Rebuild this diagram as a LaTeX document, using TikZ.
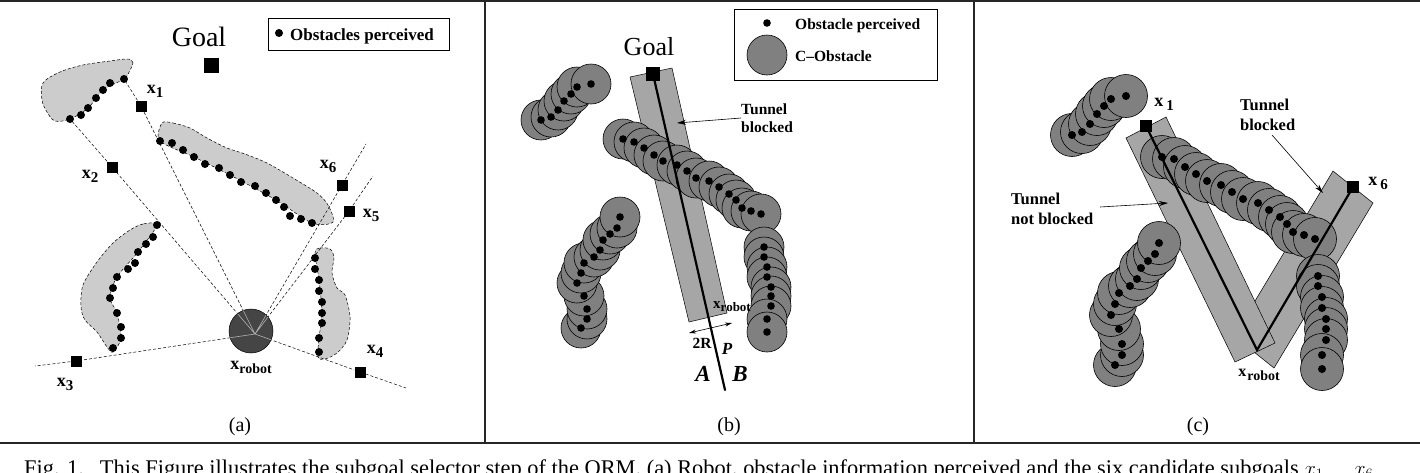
\documentclass[tikz,border=0pt]{standalone}
\usepackage{fontspec}
\setmainfont{Liberation Serif}
\usetikzlibrary{arrows.meta}
\definecolor{blobgray}{gray}{0.8}
\definecolor{obsgray}{gray}{0.5}
\definecolor{tunnelgray}{gray}{0.65}
\definecolor{robotgray}{gray}{0.27}
\newcommand{\fsz}[1]{\fontsize{#1}{#1}\selectfont}
\newcommand{\xname}[2]{\fsz{18}\textbf{x}\kern#2pt\raisebox{-4pt}{\fsz{15}\textbf{#1}}}
\newcommand{\ObsA}{(541,120),(551,117),(558,110),(564,101),(571,94),(577,87),(591,84)}
\newcommand{\ObsB}{(623,139),(634,142),(644,148),(654,155),(663,161),(677,165),(687,171),(696,178),(709,181),(719,187),(729,194),(736,200),(742,208),(751,211),(761,214)}
\newcommand{\ObsC}{(581,328),(587,319),(587,309),(584,296),(577,283),(581,273),(584,263),(594,257),(600,250),(603,240),(610,234),(617,228),(620,217)}
\newcommand{\ObsD}{(764,247),(764,257),(767,267),(767,277),(771,287),(771,296),(771,306),(767,319),(767,332)}
\newcommand{\ObsE}{(1072,135),(1082,132),(1090,124),(1097,114),(1104,106),(1111,99),(1126,96)}
\newcommand{\ObsF}{(1162,157),(1174,159),(1185,167),(1196,174),(1207,181),(1221,185),(1232,192),(1243,199),(1258,203),(1269,210),(1280,217),(1287,224),(1293,232),(1304,235),(1315,239)}
\newcommand{\ObsG}{(1115,365),(1122,355),(1122,344),(1119,329),(1111,315),(1115,304),(1119,293),(1130,286),(1137,279),(1141,268),(1148,261),(1155,254),(1159,243)}
\newcommand{\ObsH}{(1318,276),(1318,286),(1322,297),(1322,308),(1326,319),(1326,329),(1326,340),(1322,355),(1322,369)}
\tikzset{
  sq/.style={fill=black,inner sep=0pt,minimum size=11pt},
  ray/.style={densely dashed,line width=0.5pt},
  blob/.style={draw,densely dashed,line width=0.5pt,fill=blobgray},
  obs/.style={draw=black,line width=0.6pt,fill=obsgray},
  dotmark/.style={fill=black},
  tunnel/.style={draw=black,line width=0.5pt,fill=tunnelgray},
  spine/.style={line width=2.2pt,line cap=round},
  lab/.style={inner sep=0pt,align=left,font=\fsz{15.5}\bfseries},
  panel/.style={inner sep=0pt,font=\fsz{20}},
  frameline/.style={line width=2pt,draw=black!85},
  callout/.style={line width=0.6pt,-{Stealth[length=9pt,width=5pt]}}
}
\begin{document}
\begin{tikzpicture}[x=1pt,y=-1pt]
\useasboundingbox (0,0) rectangle (1420,472);
\clip (0,0) rectangle (1420,472);
\draw[frameline] (0,1)--(1420,1) (0,443)--(1420,443) (485,0)--(485,443) (974,0)--(974,443);

\draw[blob] plot[smooth cycle,tension=.55] coordinates {(130,70)(133,63)(128,59)(110,61)(83,65)(60,72)(43,83)(42,100)(47,112)(55,121)(70,119)(88,108)(103,90)(124,79)};
\draw[blob] plot[smooth cycle,tension=.5] coordinates {(162,123)(173,123)(190,128)(207,138)(227,148)(245,154)(267,163)(293,178)(317,193)(328,205)(333,222)(312,223)(276,200)(230,175)(194,157)(160,141)};
\draw[blob] plot[smooth cycle,tension=.5] coordinates {(157,225)(143,224)(130,230)(113,243)(97,262)(83,285)(81,307)(85,320)(97,332)(107,347)(113,352)(121,338)(117,313)(110,298)(117,277)(138,252)};
\draw[blob] plot[smooth cycle,tension=.5] coordinates {(315,253)(320,248)(330,249)(334,257)(332,273)(337,288)(345,295)(350,317)(347,340)(337,353)(325,359)(318,357)(319,338)(322,313)(319,280)};

\foreach \p in {(124,79),(110,83),(103,90),(96,98),(88,108),(81,115),(70,119),
(160,141),(172,143),(183,150),(194,157),(205,164),(219,168),(230,175),(241,182),(255,186),(266,193),(276,200),(284,207),(290,216),(301,219),(312,223),
(157,225),(153,237),(146,244),(138,252),(135,263),(128,269),(117,277),(113,288),(110,298),(117,313),(121,327),(121,338),(113,348),
(315,258),(315,269),(319,280),(319,291),(322,302),(322,313),(322,323),(319,338),(319,352)}
  \fill[dotmark] \p circle[radius=4pt];

\coordinate (hub) at (255,334);
\node[sq,minimum size=15pt] (goala) at (211,65) {};
\node[sq] (x1) at (141,106) {};
\node[sq] (x2) at (112,167) {};
\node[sq] (x3) at (76,361) {};
\node[sq] (x4) at (360,372) {};
\node[sq] (x5) at (349,211) {};
\node[sq] (x6) at (342,185) {};
\coordinate (e1) at (124,79);
\coordinate (e2) at (70,119);
\coordinate (e3) at (35,366);
\coordinate (e4) at (406,388);
\coordinate (e5) at (373,176);
\coordinate (e6) at (366,144);
\draw[ray] (hub)--(x1)--(e1) (hub)--(x2)--(e2) (hub)--(x3)--(e3) (hub)--(x4)--(e4) (hub)--(x5)--(e5) (hub)--(x6)--(e6);
\node[circle,draw=black,line width=0.5pt,fill=robotgray,inner sep=0pt,minimum size=44pt] (robota) at (251,331) {};
\begin{scope}
\clip (251,331) circle[radius=22pt];
\draw[line width=0.6pt,draw=gray!60] (hub)--(x1) (hub)--(x2) (hub)--(x3) (hub)--(x4) (hub)--(x5) (hub)--(x6);
\end{scope}

\node[inner sep=0pt,font=\fsz{28}] (goalalab) at (199,37) {Goal};
\node[draw=black,line width=0.7pt,minimum width=181pt,minimum height=32pt,inner sep=0pt] (lega) at (358.5,34) {};
\fill[dotmark] (279,33) circle[radius=4pt];
\node[lab,anchor=base west,font=\fsz{17}\bfseries] (legatxt) at (290,40) {Obstacles perceived};
\node[inner sep=0pt] (lx1) at (155,91) {\xname{1}{0}};
\node[inner sep=0pt] (lx2) at (90,176) {\xname{2}{0}};
\node[inner sep=0pt] (lx3) at (65,384) {\xname{3}{0}};
\node[inner sep=0pt] (lx4) at (375,351) {\xname{4}{0}};
\node[inner sep=0pt] (lx5) at (371,215) {\xname{5}{0}};
\node[inner sep=0pt] (lx6) at (328,166) {\xname{6}{0}};
\node[inner sep=0pt] (lrobota) at (251,367) {\fsz{18}\textbf{x}\raisebox{-4pt}{\fsz{14}\textbf{robot}}};
\node[panel] (pa) at (240,427) {(a)};

\coordinate (tb1) at (630,77);
\coordinate (tb2) at (672,68);
\coordinate (tb3) at (727,313);
\coordinate (tb4) at (689,322);
\draw[tunnel] (tb1)--(tb2)--(tb3)--(tb4)--cycle;
\foreach \p in \ObsA \draw[obs] \p circle[radius=20pt];
\foreach \p in \ObsB \draw[obs] \p circle[radius=20pt];
\foreach \p in \ObsC \draw[obs] \p circle[radius=20pt];
\foreach \p in \ObsD \draw[obs] \p circle[radius=20pt];
\foreach \p in \ObsA \fill[dotmark] \p circle[radius=3.8pt];
\foreach \p in \ObsB \fill[dotmark] \p circle[radius=3.8pt];
\foreach \p in \ObsC \fill[dotmark] \p circle[radius=3.8pt];
\foreach \p in \ObsD \fill[dotmark] \p circle[radius=3.8pt];
\node[sq,minimum size=14pt] (goalb) at (653,74) {};
\coordinate (endb) at (725,390);
\draw[spine] (goalb.center)--(endb);
\node[inner sep=0pt,font=\fsz{26}] (goalblab) at (649,47) {Goal};
\node[draw=black,line width=0.7pt,minimum width=203pt,minimum height=71pt,inner sep=0pt] (legb) at (835.5,44.5) {};
\fill[dotmark] (767,23) circle[radius=3.8pt];
\draw[obs] (767,55) circle[radius=20pt];
\node[lab,anchor=base west] (legb1) at (795,29) {Obstacle perceived};
\node[lab,anchor=base west] (legb2) at (795,61) {C--Obstacle};
\node[lab,anchor=west] (tunb) at (741,118) {Tunnel\\[3pt]blocked};
\draw[callout] (tunb.west)--(677,123);
\coordinate (ra) at (689,333);
\coordinate (rb) at (732,323);
\draw[line width=0.6pt,{Stealth[length=7pt,width=4pt]}-{Stealth[length=7pt,width=4pt]}] (ra)--(rb);
\node[inner sep=0pt,font=\fsz{15.5}\bfseries] (lr) at (702,343) {2R};
\node[inner sep=0pt,font=\fsz{17}\bfseries\itshape] (lp) at (727,349) {P};
\node[inner sep=0pt,font=\fsz{23}\bfseries\itshape] (la) at (703,374) {A};
\node[inner sep=0pt,font=\fsz{23}\bfseries\itshape] (lb) at (740,374) {B};
\node[inner sep=0pt] (lrobotb) at (732,307) {\fsz{15}\textbf{x}\raisebox{-3pt}{\fsz{13}\textbf{robot}}};
\node[panel] (pb) at (729,427) {(b)};

\coordinate (tc1) at (1333,171);
\coordinate (tc2) at (1373,203);
\coordinate (tc3) at (1274,368);
\coordinate (tc4) at (1234,336);
\draw[tunnel] (tc1)--(tc2)--(tc3)--(tc4)--cycle;
\coordinate (td1) at (1126,138);
\coordinate (td2) at (1166,117);
\coordinate (td3) at (1275,343);
\coordinate (td4) at (1235,362);
\draw[tunnel] (td1)--(td2)--(td3)--(td4)--cycle;
\foreach \p in \ObsE \draw[obs] \p circle[radius=21.5pt];
\foreach \p in \ObsF \draw[obs] \p circle[radius=21.5pt];
\foreach \p in \ObsG \draw[obs] \p circle[radius=21.5pt];
\foreach \p in \ObsH \draw[obs] \p circle[radius=21.5pt];
\foreach \p in \ObsE \fill[dotmark] \p circle[radius=4pt];
\foreach \p in \ObsF \fill[dotmark] \p circle[radius=4pt];
\foreach \p in \ObsG \fill[dotmark] \p circle[radius=4pt];
\foreach \p in \ObsH \fill[dotmark] \p circle[radius=4pt];
\node[sq,minimum size=12pt] (cx1) at (1146,126) {};
\node[sq,minimum size=12pt] (cx6) at (1353,187) {};
\coordinate (robotc) at (1257,350);
\draw[spine] (cx1.center)--(robotc)--(cx6.center);
\node[inner sep=0pt] (lcx1) at (1164,104) {\xname{1}{3}};
\node[inner sep=0pt] (lcx6) at (1378,183) {\xname{6}{3}};
\node[inner sep=0pt] (lrobotc) at (1259,375) {\fsz{16}\textbf{x}\kern1pt\raisebox{-4pt}{\fsz{14}\textbf{robot}}};
\node[lab,anchor=west,font=\fsz{16.5}\bfseries] (tunc) at (1240,115) {Tunnel\\[3pt]blocked};
\coordinate (tunct) at (1272,135);
\draw[callout] (tunct)--(1323,193);
\node[lab,anchor=west,font=\fsz{16.5}\bfseries] (tund) at (1011,209) {Tunnel\\[3pt]not blocked};
\coordinate (tundt) at (1100,207);
\draw[callout] (tundt)--(1168,203);
\node[panel] (pc) at (1198,427) {(c)};

\node[anchor=base west,inner sep=0pt,font=\fsz{22.4}] (cap) at (24,475.5) {Fig. 1.\hspace{16pt}This Figure illustrates the subgoal selector step of the ORM. (a) Robot, obstacle information perceived and the six candidate subgoals $x_1 \dots x_6$};
\end{tikzpicture}
\end{document}
